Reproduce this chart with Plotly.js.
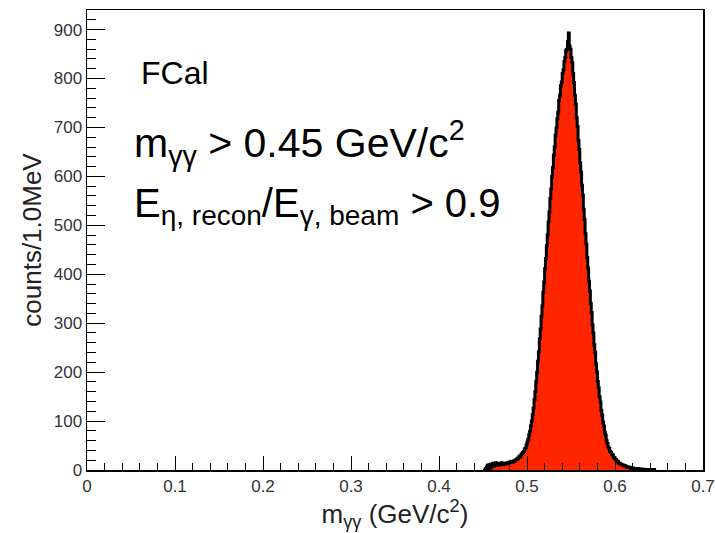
<!DOCTYPE html>
<html>
<head>
<meta charset="utf-8">
<script src="https://cdn.plot.ly/plotly-3.0.1.min.js"></script>
<style>
  html, body { margin: 0; padding: 0; background: #fff; }
  #chart { width: 715px; height: 533px; }
</style>
</head>
<body>
<div id="chart"></div>
<script>
// Histogram of m_gamma_gamma, 1 MeV bins, first bin low edge = 0.450 GeV
const binStart = 0.450;
const binWidth = 0.001;
const counts = [
  0, 0, 0, 3, 6, 10, 2, 8, 12, 5,            // 0.450-0.459
  10, 14, 8, 12, 15, 9, 13, 11, 14, 10,      // 0.460-0.469
  12, 15, 11, 13, 12, 14, 13, 15, 14, 16,    // 0.470-0.479
  15, 17, 18, 16, 17, 19, 18, 21, 22, 23,    // 0.480-0.489
  25, 28, 27, 31, 33, 36, 38, 43, 45, 51,    // 0.490-0.499
  57, 63, 72, 79, 90, 100, 113, 126, 144, 160, // 0.500-0.509
  181, 200, 222, 241, 268, 288, 314, 335, 363, 384, // 0.510-0.519
  411, 432, 458, 480, 507, 527, 555, 574, 600, 618, // 0.520-0.529
  643, 660, 684, 699, 718, 731, 755, 766, 785, 793, // 0.530-0.539
  810, 818, 835, 843, 858, 860, 875, 893, 866, 860, // 0.540-0.549
  843, 832, 810, 792, 766, 748, 720, 702, 674, 655, // 0.550-0.559
  628, 609, 582, 562, 533, 512, 483, 462, 434, 413, // 0.560-0.569
  386, 366, 340, 322, 297, 280, 256, 240, 217, 201, // 0.570-0.579
  181, 168, 150, 139, 122, 112, 98, 90, 77, 71,     // 0.580-0.589
  60, 54, 47, 44, 38, 36, 32, 31, 26, 25,           // 0.590-0.599
  22, 21, 18, 17, 14, 14, 12, 12, 10, 10,           // 0.600-0.609
  8, 9, 7, 7, 5, 6, 5, 5, 3, 4,                     // 0.610-0.619
  4, 3, 3, 3, 2, 2, 3, 1, 2, 1,                     // 0.620-0.629
  1, 2, 1, 1, 0, 1, 1, 0, 1, 0,                     // 0.630-0.639
  0, 1, 0, 0, 1, 0                                  // 0.640-0.645
];

const xTitle = 'm<sub>γγ</sub> (GeV/c<sup>2</sup>)';
const yTitle = 'counts/1.0MeV';
const labelFCal = 'FCal';
const labelMass = 'm<sub>γγ</sub> > 0.45 GeV/c<sup>2</sup>';
const labelRatio = 'E<sub>η, recon</sub>/E<sub>γ, beam</sub> > 0.9';

const centers = counts.map((_, i) => binStart + (i + 0.5) * binWidth);
const edges = counts.map((_, i) => binStart + i * binWidth);
edges.push(binStart + counts.length * binWidth);
const stepY = counts.concat([counts[counts.length - 1]]);

const font = 'Liberation Sans, Arial, Helvetica, sans-serif';

const traces = [
  {
    type: 'bar',
    x: centers,
    y: counts,
    width: binWidth,
    marker: { color: '#ff2600', line: { width: 0 } },
    hoverinfo: 'skip'
  },
  {
    type: 'scatter',
    mode: 'lines',
    x: edges,
    y: stepY,
    line: { shape: 'hv', color: '#000', width: 3 },
    hoverinfo: 'skip'
  }
];

const axisCommon = {
  showgrid: false,
  zeroline: false,
  showline: true,
  linecolor: '#000',
  linewidth: 1.5,
  mirror: true,
  ticks: 'inside',
  tickwidth: 1,
  tickcolor: '#000',
  tickfont: { family: font, size: 17, color: '#333' }
};

const layout = {
  width: 715,
  height: 533,
  margin: { l: 87, r: 12, t: 10, b: 63 },
  paper_bgcolor: '#fff',
  plot_bgcolor: '#fff',
  showlegend: false,
  bargap: 0,
  xaxis: Object.assign({}, axisCommon, {
    range: [0, 0.7],
    tick0: 0,
    dtick: 0.1,
    ticklen: 14,
    minor: { dtick: 0.02, ticks: 'inside', ticklen: 7, tickcolor: '#000', tickwidth: 1, showgrid: false },
    title: { text: xTitle, font: { family: font, size: 26, color: '#222' }, standoff: 8 }
  }),
  yaxis: Object.assign({}, axisCommon, {
    range: [0, 940],
    tick0: 0,
    dtick: 100,
    ticklen: 18,
    minor: { dtick: 20, ticks: 'inside', ticklen: 9, tickcolor: '#000', tickwidth: 1, showgrid: false },
    title: { text: yTitle, font: { family: font, size: 26, color: '#222' }, standoff: 4 }
  }),
  annotations: [
    { text: labelFCal, xref: 'paper', yref: 'paper', x: 0.084, y: 0.862, xanchor: 'left', yanchor: 'middle', showarrow: false, font: { family: font, size: 32, color: '#000' } },
    { text: labelMass, xref: 'paper', yref: 'paper', x: 0.073, y: 0.71, xanchor: 'left', yanchor: 'middle', showarrow: false, font: { family: font, size: 41, color: '#000' } },
    { text: labelRatio, xref: 'paper', yref: 'paper', x: 0.073, y: 0.575, xanchor: 'left', yanchor: 'middle', showarrow: false, font: { family: font, size: 40, color: '#000' } }
  ]
};

Plotly.newPlot('chart', traces, layout, { displayModeBar: false, staticPlot: true });
</script>
</body>
</html>
